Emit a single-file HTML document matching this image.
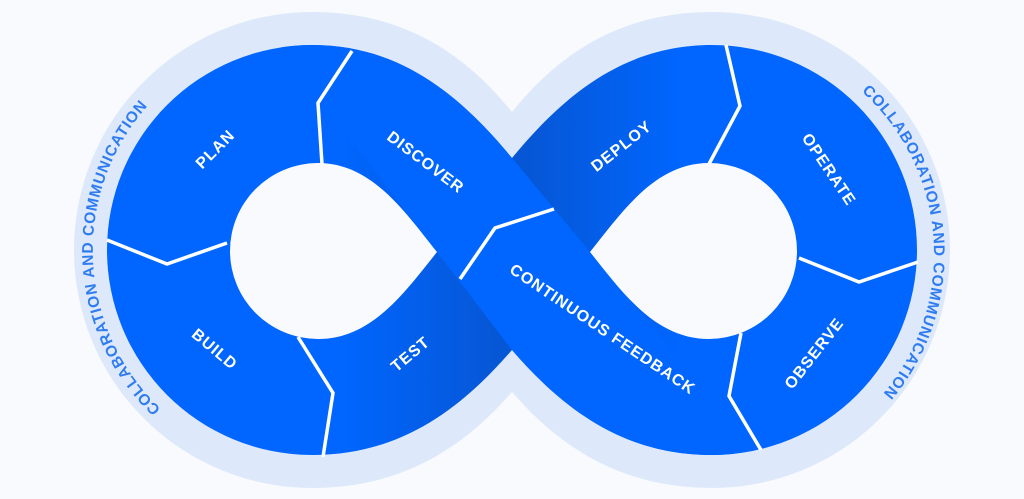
<!DOCTYPE html>
<html><head><meta charset="utf-8"><style>
html,body{margin:0;padding:0;background:#f8fafd;}
svg{display:block}
.l{font-family:"Liberation Sans",sans-serif;font-weight:700;font-size:16px;fill:#fff;letter-spacing:1px}
.c{font-family:"Liberation Sans",sans-serif;font-weight:700;font-size:15.5px;fill:#2f7cf2;letter-spacing:0.8px}
</style></head><body>
<svg width="1024" height="499" viewBox="0 0 1024 499" xmlns="http://www.w3.org/2000/svg">
<defs>
<linearGradient id="g" gradientUnits="userSpaceOnUse" x1="340" y1="0" x2="684" y2="0">
<stop offset="0" stop-color="#0066ff"/>
<stop offset="0.45" stop-color="#0657d6"/>
<stop offset="0.55" stop-color="#0657d6"/>
<stop offset="1" stop-color="#0066ff"/>
</linearGradient>
<clipPath id="band"><polygon points="166,-100 297,-100 512,158 590,252 880,600 704,600 512,350 437,252"/></clipPath>
<path id="blue" d="M312,45 C400,45 460,95 512,158 C564,95 624,45 712,45 A205,205 0 0 1 712,455 C624,455 564,410 512,350 C460,410 400,455 312,455 A205,205 0 0 1 312,45 Z"/>
<path id="la" d="M190,432 A218,218 0 0 1 175,80"/>
<path id="ra" d="M845,78 A218,218 0 0 1 868,410"/>
</defs>
<path fill="#dde9fb" d="M312,12 C410,12 470,60 512,112 C554,60 614,12 712,12 A238,238 0 0 1 712,488 C614,488 554,440 512,392 C470,440 410,488 312,488 A238,238 0 0 1 312,12 Z"/>
<use href="#blue" fill="url(#g)"/>
<g clip-path="url(#band)"><use href="#blue" fill="#0066ff"/></g>
<path fill="#f8fafd" d="M437,252 C405,212 372,163 318,163 A88,88 0 0 0 318,339 C372,339 405,292 437,252 Z"/>
<path fill="#f8fafd" d="M590,252 C622,212 655,163 709,163 A88,88 0 0 1 709,339 C655,339 622,292 590,252 Z"/>
<g fill="none" stroke="#fff" stroke-width="3.5" stroke-linejoin="miter">
<polyline points="352,51 318,103 322,164"/>
<polyline points="107,240 167,264 227,243"/>
<polyline points="298,337 333,393 323,457"/>
<polyline points="554,209 495,228 460,279"/>
<polyline points="726,45 740,106 709,164"/>
<polyline points="918,262 859,282 799,258"/>
<polyline points="741,333 729,396 761,450"/>
</g>
<text class="l" text-anchor="middle" dominant-baseline="middle" transform="translate(216,150) rotate(-45)">PLAN</text>
<text class="l" text-anchor="middle" dominant-baseline="middle" transform="translate(425,163) rotate(37)">DISCOVER</text>
<text class="l" text-anchor="middle" dominant-baseline="middle" transform="translate(214,350) rotate(40)">BUILD</text>
<text class="l" text-anchor="middle" dominant-baseline="middle" transform="translate(411,355) rotate(-40)">TEST</text>
<text class="l" text-anchor="middle" dominant-baseline="middle" transform="translate(622,147) rotate(-38)">DEPLOY</text>
<text class="l" text-anchor="middle" dominant-baseline="middle" transform="translate(828,170) rotate(56)">OPERATE</text>
<text class="l" text-anchor="middle" dominant-baseline="middle" transform="translate(602,330) rotate(34)">CONTINUOUS FEEDBACK</text>
<text class="l" text-anchor="middle" dominant-baseline="middle" transform="translate(815,354) rotate(-52)">OBSERVE</text>
<text class="c"><textPath href="#la" startOffset="50%" text-anchor="middle">COLLABORATION AND COMMUNICATION</textPath></text>
<text class="c"><textPath href="#ra" startOffset="50%" text-anchor="middle">COLLABORATION AND COMMUNICATION</textPath></text>
</svg>
</body></html>
